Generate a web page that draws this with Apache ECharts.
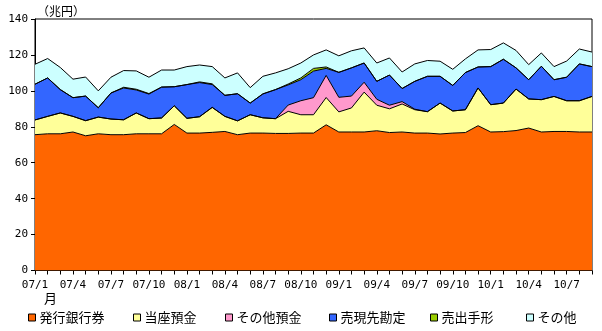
<!DOCTYPE html>
<html>
<head>
<meta charset="utf-8">
<script src="https://cdn.jsdelivr.net/npm/echarts@6/dist/echarts.min.js"></script>
<style>
html,body{margin:0;padding:0;background:#fff;}
#chart{width:602px;height:331px;}
</style>
</head>
<body>
<div id="chart"></div>
<script>
// Month categories (07/1 .. 10/9)
const months = [
  '07/1','07/2','07/3','07/4','07/5','07/6','07/7','07/8','07/9','07/10','07/11','07/12',
  '08/1','08/2','08/3','08/4','08/5','08/6','08/7','08/8','08/9','08/10','08/11','08/12',
  '09/1','09/2','09/3','09/4','09/5','09/6','09/7','09/8','09/9','09/10','09/11','09/12',
  '10/1','10/2','10/3','10/4','10/5','10/6','10/7','10/8','10/9'
];
const seriesNames = ['発行銀行券','当座預金','その他預金','売現先勘定','売出手形','その他'];
const seriesColors = ['#FF6600','#FFFF99','#FF99CC','#3366FF','#99CC00','#CCFFFF'];

// 発行銀行券
const banknotes = [75.6,76.1,76.1,77.1,75.0,76.1,75.6,75.6,76.1,76.1,76.1,81.3,
  76.5,76.5,76.9,77.4,75.6,76.5,76.5,76.3,76.3,76.5,76.5,81.1,
  77.1,77.1,77.1,77.8,76.8,77.1,76.5,76.5,76.0,76.5,76.8,80.6,
  77.1,77.3,77.9,79.3,77.1,77.4,77.4,77.1,77.1];
// 当座預金
const currentDeposits = [8.2,9.7,11.6,8.7,8.4,9.3,8.7,8.3,11.6,8.4,8.8,10.4,
  8.2,9.1,13.9,8.4,7.7,10.2,8.5,8.2,12.3,10.2,10.2,15.2,
  11.2,13.4,22.2,14.2,13.2,15.6,13.0,11.9,17.2,12.3,12.7,21.0,
  15.2,15.9,23.1,16.2,18.0,19.5,17.1,17.4,19.8];
// その他預金
const otherDeposits = [0,0,0,0,0,0,0,0,0,0,0,0,
  0,0,0,0,0,0,0,0,3.5,7.8,9.5,12.3,
  8.1,6.6,5.5,3.3,2.0,1.3,0.3,0,0,0,0,0,
  0,0,0,0,0,0,0,0,0];
// 売現先勘定
const repos = [19.9,21.4,13.0,10.4,13.7,5.2,14.5,17.7,12.8,13.7,17.2,10.6,
  18.8,19.0,12.7,11.7,15.1,6.5,13.3,16.2,11.2,11.7,14.8,3.9,
  13.9,15.7,10.7,10.0,16.8,7.3,15.5,19.7,14.9,14.2,20.7,11.7,
  21.2,24.4,11.8,10.7,18.6,9.3,13.1,20.5,16.6];
// 売出手形
const bills = [0,0,0,0,0,0,0,0.4,0.4,0.3,0,0,
  0,0.4,0.4,0,0,0,0,0,0.5,1.0,1.5,0.8,
  0,0,0,0,0,0,0,0,0,0,0,0,
  0,0,0,0,0,0,0,0,0];
// その他
const others = [11.1,10.8,12.3,10.3,10.6,9.4,8.8,9.3,10.2,9.1,9.5,9.3,
  10.0,9.4,9.6,9.7,11.6,8.6,9.8,9.3,8.5,8.3,7.5,9.5,
  9.2,9.5,8.4,10.2,9.5,9.2,9.7,8.8,8.4,9.0,7.6,9.5,
  9.5,9.1,9.7,8.4,7.4,7.3,9.0,8.3,8.1];

const yMin = 0, yMax = 140, yStep = 20;
const allData = [banknotes, currentDeposits, otherDeposits, repos, bills, others];

const series = [];
allData.forEach((d, i) => {
  series.push({
    name: seriesNames[i], type: 'line', stack: 'area', data: d,
    symbol: 'none', z: 2, silent: true,
    color: seriesColors[i],
    itemStyle: {color: seriesColors[i]},
    lineStyle: {width: 0, color: seriesColors[i]},
    areaStyle: {color: seriesColors[i], opacity: 1}
  });
});
allData.forEach((d, i) => {
  series.push({
    name: 'outline' + i, type: 'line', stack: 'outline', data: d,
    symbol: 'none', z: 3, silent: true,
    lineStyle: {width: 1, color: '#000'}
  });
});

const legendLeft = [28, 133, 225, 329, 430, 526];
const legends = seriesNames.map((n, i) => ({
  data: [n], left: legendLeft[i], top: 311, padding: 0,
  icon: 'rect', itemWidth: 7, itemHeight: 7, itemGap: 0, selectedMode: false,
  itemStyle: {borderColor: '#000', borderWidth: 1},
  textStyle: {fontFamily: 'Noto Sans CJK JP', fontSize: 13, color: '#000', padding: [0,0,0,-1]}
}));

const chart = echarts.init(document.getElementById('chart'), null, {renderer: 'canvas'});
chart.setOption({
  animation: false,
  backgroundColor: '#fff',
  grid: {left: 35, right: 10, top: 19, bottom: 60.5, show: true, borderColor: '#000', borderWidth: 1, backgroundColor: 'transparent'},
  legend: legends,
  xAxis: {
    type: 'category', data: months, boundaryGap: false,
    axisLine: {lineStyle: {color: '#000', width: 1}},
    axisTick: {show: true, interval: 0, length: 4, lineStyle: {color: '#000'}},
    axisLabel: {interval: 2, color: '#000', fontFamily: 'DejaVu Sans Mono', fontSize: 11, margin: 9},
    splitLine: {show: false}
  },
  yAxis: {
    type: 'value', min: yMin, max: yMax, interval: yStep,
    axisLine: {show: true, lineStyle: {color: '#000', width: 1}},
    axisTick: {show: true, length: 4, lineStyle: {color: '#000'}},
    axisLabel: {color: '#000', fontFamily: 'DejaVu Sans Mono', fontSize: 11, margin: 7},
    splitLine: {show: false}
  },
  graphic: [
    {type: 'text', left: 37, top: 5, style: {text: '（兆円）', fontFamily: 'Noto Sans CJK JP', fontSize: 12, fill: '#000'}},
    {type: 'text', left: 44, top: 292, style: {text: '月', fontFamily: 'Noto Sans CJK JP', fontSize: 13, fill: '#000'}}
  ],
  series: series
});
</script>
</body>
</html>
